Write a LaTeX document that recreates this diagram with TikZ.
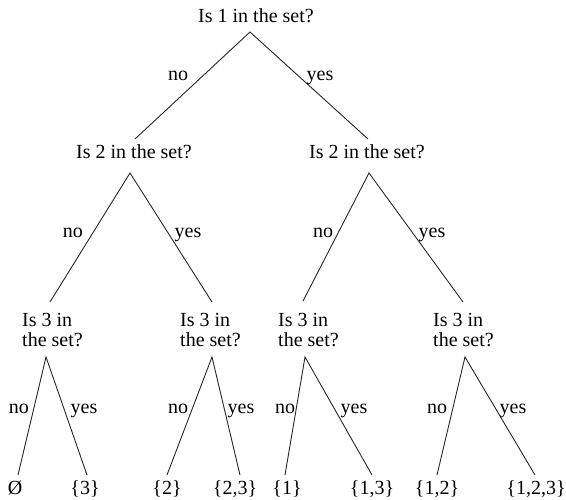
\documentclass[tikz,border=0pt]{standalone}
\usepackage{fontspec}
\setmainfont{Liberation Serif}
\newfontfamily\treefont{Liberation Serif}
\begin{document}
\begin{tikzpicture}[x=1pt,y=-1pt,
  every node/.style={inner sep=0pt, font=\treefont\fontsize{20}{20}\selectfont},
  question/.style={anchor=base},
  twoline/.style={anchor=north west, align=left},
  answer/.style={anchor=base},
  leaf/.style={anchor=base},
  branch/.style={draw=black!85, line width=0.9pt}]
\useasboundingbox (0,0) rectangle (566,499);

% questions
\node[question] (q1)  at (256,22)  {Is 1 in the set?};
\node[question] (q2a) at (134,158) {Is 2 in the set?};
\node[question] (q2b) at (367,158) {Is 2 in the set?};
\node[twoline]  (q3a) at (22,313)  {Is 3 in\\the set?};
\node[twoline]  (q3b) at (180,313) {Is 3 in\\the set?};
\node[twoline]  (q3c) at (278,313) {Is 3 in\\the set?};
\node[twoline]  (q3d) at (433,313) {Is 3 in\\the set?};

% branch points below and above each question
\coordinate (b1)  at (250,32);
\coordinate (t2a) at (135,139);
\coordinate (t2b) at (368,139);
\coordinate (b2a) at (130,173);
\coordinate (b2b) at (369,173);
\coordinate (t3a) at (50,302);
\coordinate (t3b) at (212,302);
\coordinate (t3c) at (303,301);
\coordinate (t3d) at (463,302);
\coordinate (b3a) at (46,357);
\coordinate (b3b) at (212,357);
\coordinate (b3c) at (305,357);
\coordinate (b3d) at (465,357);

% leaf tips
\coordinate (e1) at (18,475);
\coordinate (e2) at (87,475);
\coordinate (e3) at (167,475);
\coordinate (e4) at (240,475);
\coordinate (e5) at (285,475);
\coordinate (e6) at (372,475);
\coordinate (e7) at (437,475);
\coordinate (e8) at (535,475);

% branches
\draw[branch] (t2a) -- (b1) -- (t2b);
\draw[branch] (t3a) -- (b2a) -- (t3b);
\draw[branch] (t3c) -- (b2b) -- (t3d);
\draw[branch] (e1) -- (b3a) -- (e2);
\draw[branch] (e3) -- (b3b) -- (e4);
\draw[branch] (e5) -- (b3c) -- (e6);
\draw[branch] (e7) -- (b3d) -- (e8);

% branch labels
\node[answer] (n1)  at (178,80)  {no};
\node[answer] (y1)  at (320,80)  {yes};
\node[answer] (n2a) at (73,237)  {no};
\node[answer] (y2a) at (188,237) {yes};
\node[answer] (n2b) at (323,237) {no};
\node[answer] (y2b) at (432,237) {yes};
\node[answer] (n3a) at (19,413)  {no};
\node[answer] (y3a) at (84,413)  {yes};
\node[answer] (n3b) at (178,413) {no};
\node[answer] (y3b) at (241,413) {yes};
\node[answer] (n3c) at (285,413) {no};
\node[answer] (y3c) at (354,413) {yes};
\node[answer] (n3d) at (437,413) {no};
\node[answer] (y3d) at (513,413) {yes};

% resulting subsets
\node[leaf] (s1) at (15,494)  {Ø};
\node[leaf] (s2) at (85,494)  {\{3\}};
\node[leaf] (s3) at (167,494) {\{2\}};
\node[leaf] (s4) at (235,494) {\{2,3\}};
\node[leaf] (s5) at (287,494) {\{1\}};
\node[leaf] (s6) at (372,494) {\{1,3\}};
\node[leaf] (s7) at (437,494) {\{1,2\}};
\node[leaf] (s8) at (536,494) {\{1,2,3\}};
\end{tikzpicture}
\end{document}
